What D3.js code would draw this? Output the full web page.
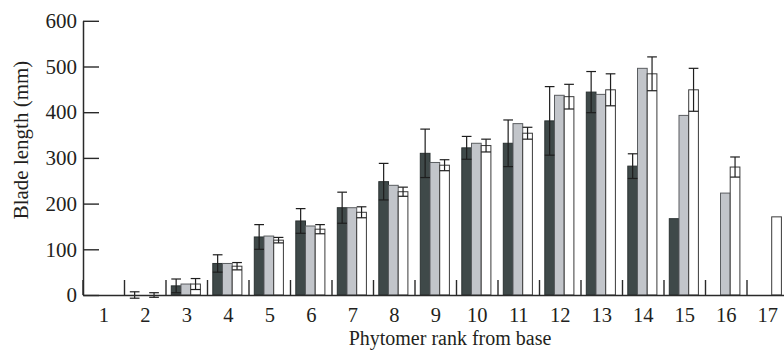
<!DOCTYPE html>
<html>
<head>
<meta charset="utf-8">
<script src="https://cdn.jsdelivr.net/npm/d3@7"></script>
<style>
  html, body { margin: 0; padding: 0; background: #fff; }
  svg { display: block; }
  text { font-family: "Liberation Serif", "Times New Roman", serif; fill: #231f20; }
</style>
</head>
<body>
<svg id="chart" width="784" height="354"></svg>
<script>
// Blade length by phytomer rank, three treatments (dark, grey, white bars)
const ranks = [1, 2, 3, 4, 5, 6, 7, 8, 9, 10, 11, 12, 13, 14, 15, 16, 17];
const darkValues = [0, 0, 20, 69, 127, 162, 191, 248, 310, 322, 332, 381, 444, 282, 167, null, null];
const darkErrors = [0, 7, 15, 19, 27, 27, 34, 40, 53, 25, 51, 75, 45, 27, 0, null, null];
const greyValues = [null, null, 24, 69, 129, 151, 191, 240, 290, 332, 375, 437, 439, 496, 393, 223, null];
const whiteValues = [0, 0, 24, 63, 120, 144, 181, 226, 284, 327, 354, 434, 449, 484, 449, 280, 171];
const whiteErrors = [0, 5, 12, 8, 6, 10, 12, 10, 12, 14, 13, 27, 35, 37, 47, 22, 0];
const yTicks = [0, 100, 200, 300, 400, 500, 600];

(function () {
const svg = d3.select("#chart");
const plotLeft = 83, plotBottom = 295, plotTop = 20.8, step = 41.5;
const fontFamily = "'Liberation Serif', 'Times New Roman', serif";

const x = d3.scaleBand().domain(ranks).range([plotLeft, plotLeft + step * ranks.length]).padding(0);
const inner = d3.scaleBand().domain(["dark", "grey", "white"]).range([5.3, 34.4]).padding(0);
const y = d3.scaleLinear().domain([0, 600]).range([plotBottom, plotTop]);

const series = [
  { key: "dark", values: darkValues, errors: darkErrors, fill: "#3f4949", stroke: "#2b3232" },
  { key: "grey", values: greyValues, errors: null, fill: "#c2c5ca", stroke: "#5a5d60" },
  { key: "white", values: whiteValues, errors: whiteErrors, fill: "#ffffff", stroke: "#3a3a3a" }
];

// bars
series.forEach(s => {
  const data = ranks.map((r, i) => ({ r, v: s.values[i] })).filter(d => d.v !== null);
  svg.append("g").selectAll("rect").data(data).join("rect")
    .attr("x", d => x(d.r) + inner(s.key))
    .attr("y", d => y(d.v))
    .attr("width", inner.bandwidth())
    .attr("height", d => y(0) - y(d.v))
    .attr("fill", s.fill)
    .attr("stroke", s.stroke)
    .attr("stroke-width", 1);
});

// error bars
series.filter(s => s.errors).forEach(s => {
  const data = ranks.map((r, i) => ({ r, v: s.values[i], e: s.errors[i] }))
    .filter(d => d.v !== null && d.e > 0);
  const g = svg.append("g").attr("stroke", "#1e1e1e").attr("stroke-width", 1.2).attr("fill", "none");
  const cx = d => x(d.r) + inner(s.key) + inner.bandwidth() / 2;
  const hw = inner.bandwidth() / 2;
  g.selectAll("line.v").data(data).join("line").attr("class", "v")
    .attr("x1", cx).attr("x2", cx)
    .attr("y1", d => y(d.v + d.e)).attr("y2", d => y(d.v - d.e));
  g.selectAll("line.t").data(data).join("line").attr("class", "t")
    .attr("x1", d => cx(d) - hw).attr("x2", d => cx(d) + hw)
    .attr("y1", d => y(d.v + d.e)).attr("y2", d => y(d.v + d.e));
  g.selectAll("line.b").data(data).join("line").attr("class", "b")
    .attr("x1", d => cx(d) - hw).attr("x2", d => cx(d) + hw)
    .attr("y1", d => y(d.v - d.e)).attr("y2", d => y(d.v - d.e));
});

// group separators rising from the baseline
svg.append("g").selectAll("line").data(ranks).join("line")
  .attr("x1", d => x(d)).attr("x2", d => x(d))
  .attr("y1", plotBottom).attr("y2", plotBottom - 15)
  .attr("stroke", "#2a2a2a").attr("stroke-width", 1.4);

// y axis
const yAxis = svg.append("g").attr("transform", `translate(${plotLeft},0)`)
  .call(d3.axisLeft(y).tickValues(yTicks).tickSizeInner(-16).tickSizeOuter(0).tickPadding(6));
yAxis.select(".domain").attr("stroke", "#2a2a2a").attr("stroke-width", 1.5);
yAxis.selectAll(".tick line").attr("stroke", "#2a2a2a").attr("stroke-width", 1.4);
yAxis.selectAll(".tick text").attr("font-size", 21).attr("fill", "#231f20")
  .attr("font-family", fontFamily);

// x axis
const xAxis = svg.append("g").attr("transform", `translate(0,${plotBottom})`)
  .call(d3.axisBottom(x).tickSize(0).tickPadding(12.5));
xAxis.select(".domain").attr("stroke", "#2a2a2a").attr("stroke-width", 1.5);
xAxis.selectAll(".tick text").attr("font-size", 20.5).attr("fill", "#231f20")
  .attr("font-family", fontFamily);

// axis titles
svg.append("text")
  .attr("x", 450).attr("y", 345)
  .attr("text-anchor", "middle").attr("font-size", 20)
  .text("Phytomer rank from base");
svg.append("text")
  .attr("transform", "translate(28,140) rotate(-90)")
  .attr("text-anchor", "middle").attr("font-size", 21)
  .text("Blade length (mm)");
})();
</script>
</body>
</html>
